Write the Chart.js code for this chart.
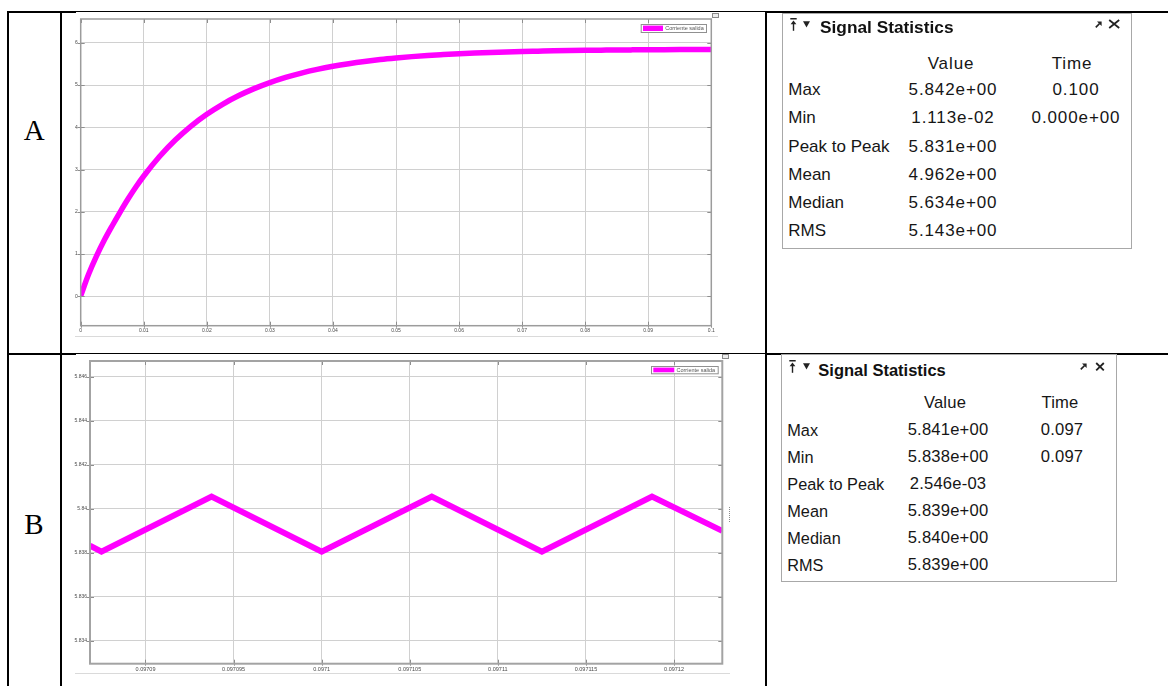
<!DOCTYPE html>
<html>
<head>
<meta charset="utf-8">
<script src="https://cdn.jsdelivr.net/npm/chart.js@4.4.1/dist/chart.umd.min.js"></script>
<style>
  html, body { margin: 0; padding: 0; background: #fff; }
  body { width: 1168px; height: 686px; position: relative; overflow: hidden;
         font-family: "Liberation Sans", Arial, sans-serif; color: #161616; }
  .rule { position: absolute; background: #000; }
  .rowlabel { position: absolute; font-family: "Liberation Serif", "Times New Roman", serif;
              font-size: 29px; line-height: 1; transform: translate(-50%, -50%); color: #000; }
  canvas { position: absolute; }
  .edge { position: absolute; background: #dadada; height: 1px; }
  .corner { position: absolute; width: 5px; height: 3px; border: 1px solid #8a8a8a; background: #ececec; }
  .panel { position: absolute; border: 1px solid #a8a8a8; box-sizing: border-box; background: #fff; }
  .txt { position: absolute; white-space: nowrap; line-height: 1; }
  .icon { position: absolute; display: block; line-height: 0; }
  .icon svg { display: block; }
</style>
</head>
<body>

<!-- table rules -->
<div class="rule" style="left:7px;top:11px;width:2px;height:675px"></div>
<div class="rule" style="left:60px;top:11px;width:2px;height:675px"></div>
<div class="rule" style="left:765px;top:11px;width:2px;height:675px"></div>
<div class="rule" style="left:7px;top:11px;width:69px;height:2px"></div>
<div class="rule" style="left:76px;top:11px;width:689px;height:1px"></div>
<div class="rule" style="left:765px;top:11px;width:403px;height:2px"></div>
<div class="rule" style="left:7px;top:353px;width:69px;height:2px"></div>
<div class="rule" style="left:76px;top:353px;width:689px;height:1px"></div>
<div class="rule" style="left:765px;top:353px;width:403px;height:2px"></div>

<div class="rowlabel" style="left:34.2px;top:130.3px">A</div>
<div class="rowlabel" style="left:34px;top:524px">B</div>

<!-- scope figures -->
<canvas id="chartA" width="703" height="339" style="left:62px;top:13px"></canvas>
<div class="edge" style="left:75px;top:336px;width:643px"></div>
<div class="corner" style="left:711.5px;top:13px"></div>

<canvas id="chartB" width="703" height="331" style="left:62px;top:355px"></canvas>
<div class="edge" style="left:75px;top:673px;width:655px"></div>
<div class="corner" style="left:721.5px;top:354px"></div>
<div style="position:absolute;left:729px;top:507px;width:0;height:15px;border-left:1px dotted #8a8a8a"></div>

<div id="panelA" class="panel"></div>
<div id="panelB" class="panel"></div>

<script>
// ---- simulation output, scope A (full run) ----
const timeA = [0, 0.00125, 0.0025, 0.00375, 0.005, 0.00625, 0.0075, 0.00875, 0.01,
  0.0125, 0.015, 0.0175, 0.02, 0.0225, 0.025, 0.0275, 0.03, 0.0325, 0.035, 0.0375,
  0.04, 0.0425, 0.045, 0.0475, 0.05, 0.0525, 0.055, 0.0575, 0.06, 0.0625, 0.065,
  0.0675, 0.07, 0.0725, 0.075, 0.0775, 0.08, 0.0825, 0.085, 0.0875, 0.09, 0.0925,
  0.095, 0.0975, 0.1];
const currentA = [0.011, 0.52, 0.95, 1.33, 1.67, 1.993, 2.301, 2.585, 2.846,
  3.307, 3.697, 4.028, 4.307, 4.544, 4.744, 4.914, 5.057, 5.179, 5.282, 5.369,
  5.443, 5.505, 5.558, 5.603, 5.640, 5.672, 5.700, 5.722, 5.742, 5.758, 5.772,
  5.784, 5.794, 5.802, 5.810, 5.816, 5.821, 5.825, 5.829, 5.832, 5.834, 5.837,
  5.839, 5.840, 5.842];

// ---- scope B (zoom on the ripple in steady state) ----
const timeB = [0.09708685, 0.0970875, 0.09709375, 0.0971, 0.09710625, 0.0971125, 0.09711875, 0.09712274];
const currentB = [5.83832, 5.83805, 5.84055, 5.83805, 5.84055, 5.83805, 5.84055, 5.83899];

const seriesName = "Corriente salida";

// axis ticks
const xTicksA = [0, 0.01, 0.02, 0.03, 0.04, 0.05, 0.06, 0.07, 0.08, 0.09, 0.1];
const xLabelsA = ["0", "0.01", "0.02", "0.03", "0.04", "0.05", "0.06", "0.07", "0.08", "0.09", "0.1"];
const yTicksA = [0, 1, 2, 3, 4, 5, 6];
const yLabelsA = ["0", "1", "2", "3", "4", "5", "6"];
const xTicksB = [0.09709, 0.097095, 0.0971, 0.097105, 0.09711, 0.097115, 0.09712];
const xLabelsB = ["0.09709", "0.097095", "0.0971", "0.097105", "0.09711", "0.097115", "0.09712"];
const yTicksB = [5.834, 5.836, 5.838, 5.84, 5.842, 5.844, 5.846];
const yLabelsB = ["5.834", "5.836", "5.838", "5.84", "5.842", "5.844", "5.846"];

// signal statistics
const statNames = ["Max", "Min", "Peak to Peak", "Mean", "Median", "RMS"];
const statValuesA = ["5.842e+00", "1.113e-02", "5.831e+00", "4.962e+00", "5.634e+00", "5.143e+00"];
const statTimesA = ["0.100", "0.000e+00", "", "", "", ""];
const statValuesB = ["5.841e+00", "5.838e+00", "2.546e-03", "5.839e+00", "5.840e+00", "5.839e+00"];
const statTimesB = ["0.097", "0.097", "", "", "", ""];

Chart.defaults.font.family = '"Liberation Sans", Arial, sans-serif';

// plot frame, inward tick marks and the boxed legend
const scopeFrame = {
  id: 'scopeFrame',
  afterDatasetsDraw(chart, args, opts) {
    const ctx = chart.ctx;
    const a = chart.chartArea;
    ctx.save();
    // ticks
    ctx.strokeStyle = '#8e8e8e';
    ctx.lineWidth = 1;
    const xs = chart.scales.x, ys = chart.scales.y;
    xs.ticks.forEach(t => {
      const px = Math.round(xs.getPixelForValue(t.value)) + 0.5;
      ctx.beginPath();
      ctx.moveTo(px, a.bottom + 2); ctx.lineTo(px, a.bottom - 4);
      ctx.moveTo(px, a.top); ctx.lineTo(px, a.top + 4);
      ctx.stroke();
    });
    ys.ticks.forEach(t => {
      const py = Math.round(ys.getPixelForValue(t.value)) + 0.5;
      ctx.beginPath();
      ctx.moveTo(a.left - 3, py); ctx.lineTo(a.left + 4, py);
      ctx.moveTo(a.right - 4, py); ctx.lineTo(a.right, py);
      ctx.stroke();
    });
    // border
    ctx.strokeStyle = opts.borderColor;
    ctx.lineWidth = opts.borderWidth;
    ctx.strokeRect(a.left, a.top, a.right - a.left, a.bottom - a.top);
    // legend
    const ds = chart.data.datasets[0];
    const w = opts.legendW, h = opts.legendH;
    const lx = a.right - opts.legendInsetX - w, ly = a.top + opts.legendInsetY;
    ctx.fillStyle = '#fff';
    ctx.fillRect(lx, ly, w, h);
    ctx.strokeStyle = '#909090';
    ctx.lineWidth = 1;
    ctx.strokeRect(lx + 0.5, ly + 0.5, w, h);
    ctx.fillStyle = ds.borderColor;
    ctx.fillRect(lx + 2.3, ly + 1.6, opts.swatchW, h - 2.6);
    ctx.fillStyle = '#555';
    ctx.font = '5.5px "Liberation Sans", Arial, sans-serif';
    ctx.textBaseline = 'middle';
    ctx.fillText(ds.label, lx + opts.swatchW + 4.5, ly + h / 2 + 0.8);
    ctx.restore();
  }
};

function scopeChart(id, times, values, cfg) {
  const pts = times.map((t, i) => ({ x: t, y: values[i] }));
  return new Chart(document.getElementById(id), {
    type: 'line',
    data: {
      datasets: [{
        label: seriesName,
        data: pts,
        borderColor: '#ff00ff',
        borderWidth: cfg.lineWidth,
        borderJoinStyle: 'miter',
        pointRadius: 0,
        cubicInterpolationMode: cfg.smooth ? 'monotone' : 'default',
        tension: 0,
        fill: false
      }]
    },
    options: {
      responsive: false,
      animation: false,
      devicePixelRatio: 1,
      events: [],
      layout: { padding: { top: cfg.padTop, right: cfg.padRight, left: 0, bottom: 0 } },
      plugins: {
        legend: { display: false },
        tooltip: { enabled: false },
        scopeFrame: cfg.frame
      },
      scales: {
        x: {
          type: 'linear', min: cfg.xMin, max: cfg.xMax,
          afterBuildTicks: s => { s.ticks = cfg.xTicks.map(v => ({ value: v })); },
          afterFit: s => { s.height = cfg.xAxisH; },
          ticks: { callback: (v, i) => cfg.xLabels[i], autoSkip: false, maxRotation: 0,
                   font: { size: cfg.xFont }, color: '#4a4a4a', padding: 2 },
          grid: { color: '#d0d0d0', lineWidth: 1, drawTicks: false },
          border: { display: false }
        },
        y: {
          type: 'linear', min: cfg.yMin, max: cfg.yMax,
          afterBuildTicks: s => { s.ticks = cfg.yTicks.map(v => ({ value: v })); },
          afterFit: s => { s.width = cfg.yAxisW; },
          ticks: { callback: (v, i) => cfg.yLabels[i], autoSkip: false,
                   font: { size: 5 }, color: '#4a4a4a', padding: 3 },
          grid: { color: '#d0d0d0', lineWidth: 1, drawTicks: false },
          border: { display: false }
        }
      }
    },
    plugins: [scopeFrame]
  });
}

scopeChart('chartA', timeA, currentA, {
  lineWidth: 5.5, smooth: true,
  padTop: 3, padRight: 53.7, xAxisH: 26.3, yAxisW: 18.7,
  xMin: 0, xMax: 0.1, yMin: -0.696, yMax: 6.5625,
  xTicks: xTicksA, xLabels: xLabelsA, yTicks: yTicksA, yLabels: yLabelsA, xFont: 5,
  frame: { borderColor: '#9c9c9c', borderWidth: 1.5, legendW: 65.3, legendH: 8,
           legendInsetX: 5.3, legendInsetY: 5, swatchW: 20 }
});

scopeChart('chartB', timeB, currentB, {
  lineWidth: 6, smooth: false,
  padTop: 2, padRight: 42.7, xAxisH: 22.3, yAxisW: 28,
  xMin: 0.09708685, xMax: 0.09712274, yMin: 5.83295, yMax: 5.84672,
  xTicks: xTicksB, xLabels: xLabelsB, yTicks: yTicksB, yLabels: yLabelsB, xFont: 5.5,
  frame: { borderColor: '#a3a3a3', borderWidth: 2, legendW: 66.7, legendH: 7.3,
           legendInsetX: 4.6, legendInsetY: 5, swatchW: 21 }
});

// ---- statistics panels ----
const svgPin = '<svg width="7" height="13" viewBox="0 0 7 13"><rect x="0.3" y="0" width="6.4" height="1.5" fill="#222"/><path d="M3.5 2.6 L6.4 6.2 L0.6 6.2 Z" fill="#222"/><rect x="2.8" y="5.8" width="1.4" height="7" fill="#222"/></svg>';
const svgTri = '<svg width="7" height="7" viewBox="0 0 7 7"><path d="M0 0.3 H7 L3.5 6.6 Z" fill="#222"/></svg>';
const svgArrow = '<svg width="7" height="7" viewBox="0 0 7 7"><path d="M0.8 6.3 L4.6 2.5" stroke="#222" stroke-width="1.7"/><path d="M2 0.4 H6.6 V5 Z" fill="#222"/></svg>';
function svgClose(w, h) {
  return '<svg width="' + w + '" height="' + h + '" viewBox="0 0 ' + w + ' ' + h + '"><path d="M1.2 1 L' + (w - 1.2) + ' ' + (h - 1) + ' M' + (w - 1.2) + ' 1 L1.2 ' + (h - 1) + '" stroke="#222" stroke-width="1.8"/></svg>';
}

function addText(parent, str, x, cy, center, style) {
  const d = document.createElement('div');
  d.className = 'txt';
  d.textContent = str;
  d.style.left = x + 'px';
  d.style.top = cy + 'px';
  d.style.transform = center ? 'translate(-50%,-50%)' : 'translateY(-50%)';
  Object.assign(d.style, style || {});
  parent.appendChild(d);
  return d;
}
function addIcon(parent, html, x, y) {
  const d = document.createElement('div');
  d.className = 'icon';
  d.style.left = x + 'px';
  d.style.top = y + 'px';
  d.innerHTML = html;
  parent.appendChild(d);
}

function buildPanel(id, L, values, times) {
  const p = document.getElementById(id);
  Object.assign(p.style, { left: L.left + 'px', top: L.top + 'px', width: L.width + 'px', height: L.height + 'px' });
  // positions inside the bordered box are measured from its outer edge
  const bx = -1, by = -1;
  addIcon(p, svgPin, L.pin[0] + bx, L.pin[1] + by);
  addIcon(p, svgTri, L.tri[0] + bx, L.tri[1] + by);
  addIcon(p, svgArrow, L.arrow[0] + bx, L.arrow[1] + by);
  addIcon(p, svgClose(L.closeW, L.closeH), L.close[0] + bx, L.close[1] + by);
  addText(p, 'Signal Statistics', L.titleX + bx, L.titleCY + by, false, { fontSize: L.titleSize + 'px', fontWeight: 'bold', color: '#111' });
  const num = { fontSize: L.numSize + 'px', letterSpacing: L.numSpacing + 'px' };
  addText(p, 'Value', L.headValCX + bx, L.headCY + by, true, num);
  addText(p, 'Time', L.headTimeCX + bx, L.headCY + by, true, num);
  statNames.forEach((name, i) => {
    const cy = L.row0 + i * L.rowStep + by;
    addText(p, name, L.labelX + bx, cy, false, { fontSize: L.size + 'px' });
    addText(p, values[i], L.valCX + bx, cy, true, num);
    if (times[i]) addText(p, times[i], L.timeCX + bx, cy, true, num);
  });
}

buildPanel('panelA', {
  left: 781.5, top: 13, width: 350.5, height: 235.5,
  titleX: 38.5, titleCY: 14.5, titleSize: 17.3,
  headCY: 49.7, row0: 76.3, rowStep: 28.1,
  labelX: 6.8, valCX: 171.5, headValCX: 169.5, timeCX: 294.5, headTimeCX: 290.5,
  size: 17, numSize: 17, numSpacing: 0.9,
  pin: [8.5, 5.3], tri: [21.8, 7.7], arrow: [313.5, 7.7], close: [326.8, 6.3], closeW: 12.4, closeH: 10
}, statValuesA, statTimesA);

buildPanel('panelB', {
  left: 781, top: 354, width: 335.7, height: 227.7,
  titleX: 37.3, titleCY: 16, titleSize: 16.5,
  headCY: 49.3, row0: 76, rowStep: 27,
  labelX: 6.3, valCX: 167, headValCX: 164, timeCX: 281, headTimeCX: 279,
  size: 16.3, numSize: 16.6, numSpacing: 0.2,
  pin: [8.3, 6], tri: [21.7, 9.3], arrow: [299, 8.7], close: [314, 7.7], closeW: 10, closeH: 9.3
}, statValuesB, statTimesB);
</script>
</body>
</html>
